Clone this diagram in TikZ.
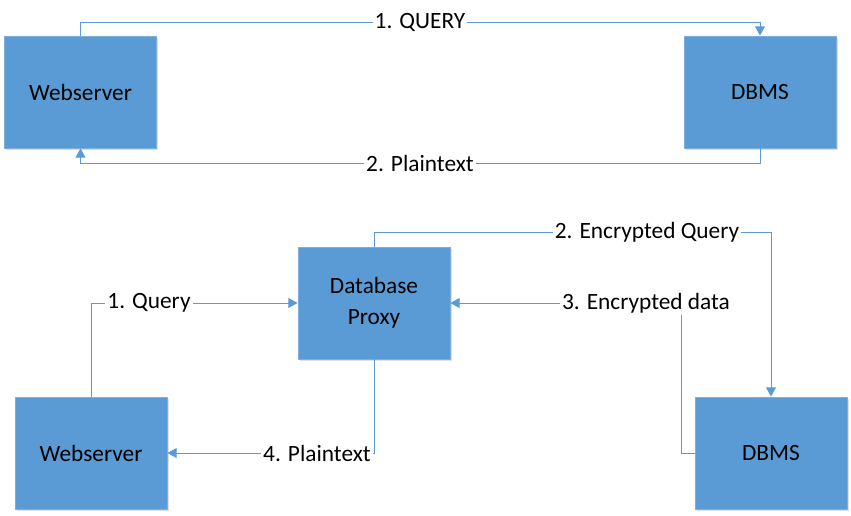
\documentclass[tikz,border=0pt]{standalone}
\usepackage{fontspec}
\setmainfont{Carlito}
\usepackage{tikz}
\usetikzlibrary{arrows.meta,shadows}
\definecolor{boxblue}{HTML}{5B9BD5}
\definecolor{lineblue}{HTML}{5B9BD5}

\begin{document}
\begin{tikzpicture}[%
    x=0.75pt, y=-0.75pt,        % work in pixels of the sketch, y going down
    >={Triangle[length=7pt,width=7.5pt]},
    font=\fontsize{17.5}{21}\selectfont
    ]
% -------------------------------------------------
% Box and connector styles
\tikzset{
  base/.style={draw=boxblue!80!white, line width=0.6pt, fill=boxblue,
    align=center, inner sep=2pt,
    drop shadow={opacity=0.25, shadow xshift=1.2pt, shadow yshift=-1.2pt}},
  serv/.style={base, rectangle, minimum width=114pt, minimum height=84pt},
  flow/.style={->, draw, lineblue, line width=0.75pt},
  lbl/.style={fill=white, inner sep=1.5pt}
}
\useasboundingbox (0,0) rectangle (851,515);
% -------------------------------------------------
% Top picture: plain setup
\node [serv] (web1)  at (80.5,92) {Webserver};
\node [serv] (dbms1) at (760,92)  {DBMS};

\coordinate (c1) at (760,22);
\coordinate (c2) at (80.5,163);
\draw [flow] (web1.north) |- (c1) -- (dbms1.north);
\draw [flow] (dbms1.south) |- (c2) -- (web1.south);
\node [lbl] (q1) at (420,22)  {1. QUERY};
\node [lbl] (p1) at (420,163) {2. Plaintext};

% -------------------------------------------------
% Bottom picture: with the proxy in between
\node [serv] (proxy) at (374,303) {Database\\[2pt]Proxy};
\node [serv] (web2)  at (91,453)  {Webserver};
\node [serv] (dbms2) at (771,453) {DBMS};

\coordinate (c3) at (771,232);
\coordinate (c4) at (681,303);
\draw [flow] (web2.north) |- (proxy.west);
\draw [flow] (proxy.north) |- (c3) -- (dbms2.north);
\draw [flow] (dbms2.west) -| (c4) -- (proxy.east);
\draw [flow] (proxy.south) |- (web2.east);

% labels sit on top of the lines
\node [lbl] (q2) at (149,303) {1. Query};
\node [lbl] (e2) at (647,232) {2. Encrypted Query};
\node [lbl] (d2) at (646,303) {3. Encrypted data};
\node [lbl] (p2) at (317,453) {4. Plaintext};
% -------------------------------------------------
\end{tikzpicture}
\end{document}
